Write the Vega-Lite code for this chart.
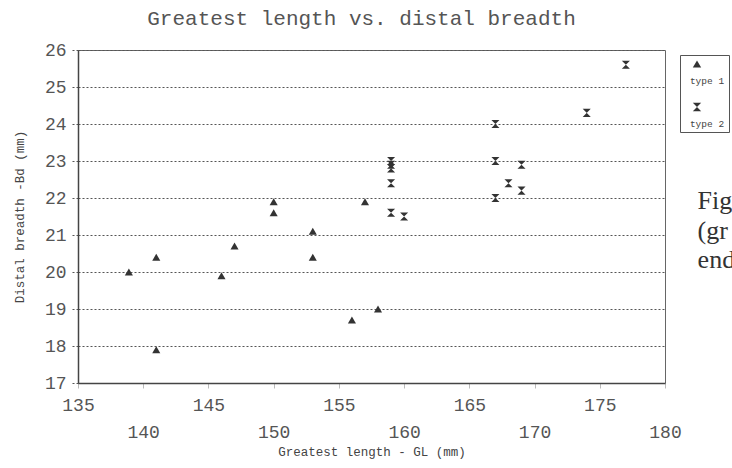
{
  "$schema": "https://vega.github.io/schema/vega-lite/v6.json",
  "width": 587,
  "height": 333,
  "autosize": {"type": "none"},
  "padding": {"left": 78, "top": 50, "right": 67, "bottom": 85},
  "background": "white",
  "title": {
    "text": "Greatest length vs. distal breadth",
    "font": "Liberation Mono",
    "fontSize": 21,
    "fontWeight": "normal",
    "color": "#555",
    "anchor": "middle",
    "frame": "group",
    "offset": 12,
    "dx": -10
  },
  "config": {
    "view": {"stroke": "#666", "strokeWidth": 1}
  },
  "encoding": {
    "x": {
      "field": "GL",
      "type": "quantitative",
      "scale": {"domain": [135, 180], "nice": false, "zero": false},
      "axis": {
        "title": "Greatest length - GL (mm)",
        "titleFont": "Liberation Mono",
        "titleFontSize": 12.5,
        "titleFontWeight": "normal",
        "titleColor": "#444",
        "titlePadding": 4,
        "values": [135, 140, 145, 150, 155, 160, 165, 170, 175, 180],
        "labelFont": "Liberation Mono",
        "labelFontSize": 18,
        "labelColor": "#555",
        "labelFlush": false,
        "labelOverlap": false,
        "labelPadding": {"condition": {"test": "datum.value % 10 === 0", "value": 35}, "value": 8},
        "grid": false,
        "domainColor": "#444",
        "domainWidth": 1.5,
        "tickColor": "#bbb",
        "tickSize": 5
      }
    },
    "y": {
      "field": "Bd",
      "type": "quantitative",
      "scale": {"domain": [17, 26], "nice": false, "zero": false},
      "axis": {
        "title": "Distal breadth -Bd (mm)",
        "titleFont": "Liberation Mono",
        "titleFontSize": 12.5,
        "titleFontWeight": "normal",
        "titleColor": "#444",
        "titlePadding": 18,
        "values": [17, 18, 19, 20, 21, 22, 23, 24, 25, 26],
        "tickCount": 10,
        "labelFont": "Liberation Mono",
        "labelFontSize": 18,
        "labelColor": "#555",
        "labelPadding": 5,
        "labelFlush": false,
        "labelOverlap": false,
        "grid": true,
        "gridColor": "#555",
        "gridDash": [2, 2],
        "gridWidth": 1,
        "domainColor": "#444",
        "domainWidth": 1.5,
        "tickColor": "#555",
        "tickDash": [2, 2],
        "tickSize": 7
      }
    }
  },
  "layer": [
    {
      "data": {
        "values": [
          {"GL": 138.9, "Bd": 20.0, "type": "type 1"},
          {"GL": 141.0, "Bd": 20.4, "type": "type 1"},
          {"GL": 141.0, "Bd": 17.9, "type": "type 1"},
          {"GL": 147.0, "Bd": 20.7, "type": "type 1"},
          {"GL": 146.0, "Bd": 19.9, "type": "type 1"},
          {"GL": 150.0, "Bd": 21.9, "type": "type 1"},
          {"GL": 150.0, "Bd": 21.6, "type": "type 1"},
          {"GL": 153.0, "Bd": 21.1, "type": "type 1"},
          {"GL": 153.0, "Bd": 20.4, "type": "type 1"},
          {"GL": 156.0, "Bd": 18.7, "type": "type 1"},
          {"GL": 158.0, "Bd": 19.0, "type": "type 1"},
          {"GL": 157.0, "Bd": 21.9, "type": "type 1"},
          {"GL": 159.0, "Bd": 23.0, "type": "type 2"},
          {"GL": 159.0, "Bd": 22.9, "type": "type 2"},
          {"GL": 159.0, "Bd": 22.8, "type": "type 2"},
          {"GL": 159.0, "Bd": 22.4, "type": "type 2"},
          {"GL": 159.0, "Bd": 21.6, "type": "type 2"},
          {"GL": 160.0, "Bd": 21.5, "type": "type 2"},
          {"GL": 167.0, "Bd": 24.0, "type": "type 2"},
          {"GL": 167.0, "Bd": 23.0, "type": "type 2"},
          {"GL": 167.0, "Bd": 22.0, "type": "type 2"},
          {"GL": 168.0, "Bd": 22.4, "type": "type 2"},
          {"GL": 169.0, "Bd": 22.9, "type": "type 2"},
          {"GL": 169.0, "Bd": 22.2, "type": "type 2"},
          {"GL": 174.0, "Bd": 24.3, "type": "type 2"},
          {"GL": 177.0, "Bd": 25.6, "type": "type 2"}
        ]
      },
      "mark": {"type": "point", "filled": true, "opacity": 1, "size": 65, "color": "#333"},
      "encoding": {
        "shape": {
          "field": "type",
          "type": "nominal",
          "scale": {"domain": ["type 1", "type 2"], "range": ["triangle-up", "M-1,-1H1L-1,1H1Z"]},
          "legend": {
            "title": null,
            "orient": "none",
            "legendX": 602,
            "legendY": 5,
            "strokeColor": "#555",
            "fillColor": "white",
            "padding": 4,
            "symbolSize": 70,
            "symbolOffset": 8,
            "symbolFillColor": "#333",
            "symbolStrokeColor": "#333",
            "labelExpr": "['', datum.label]",
            "labelAlign": "center",
            "labelBaseline": "top",
            "labelOffset": 5,
            "labelFont": "Liberation Mono",
            "labelFontSize": 9.5,
            "labelColor": "#444",
            "rowPadding": 14
          }
        }
      }
    },
    {
      "data": {
        "values": [
          {"GL": 182.5, "Bd": 21.7, "t": "Fig"},
          {"GL": 182.5, "Bd": 20.9, "t": "(gr"},
          {"GL": 182.5, "Bd": 20.1, "t": "end"}
        ]
      },
      "mark": {"type": "text", "align": "left", "baseline": "alphabetic", "font": "Liberation Serif", "fontSize": 26, "color": "#333", "clip": false},
      "encoding": {
        "text": {"field": "t", "type": "nominal"}
      }
    }
  ]
}
